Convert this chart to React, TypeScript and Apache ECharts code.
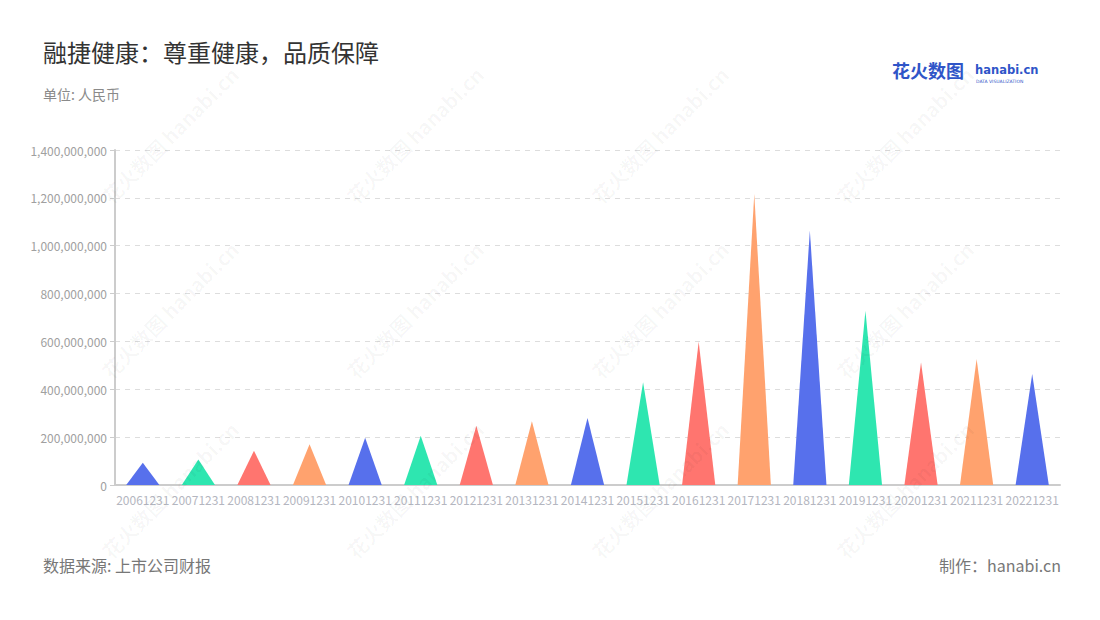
import React, { useEffect, useRef } from "react";
import * as echarts from "echarts";

const categories = [
  "20061231", "20071231", "20081231", "20091231", "20101231", "20111231",
  "20121231", "20131231", "20141231", "20151231", "20161231", "20171231",
  "20181231", "20191231", "20201231", "20211231", "20221231",
];
const values = [
  93000000, 107000000, 143000000, 171000000, 198000000, 206000000,
  247000000, 266000000, 280000000, 429000000, 599000000, 1216000000,
  1063000000, 728000000, 512000000, 527000000, 464000000,
];
const palette = ["#5770EC", "#2EE6B0", "#FF756F", "#FFA26E"];

const title = "融捷健康：尊重健康，品质保障";
const unit = "单位: 人民币";
const source = "数据来源: 上市公司财报";
const maker = "制作：hanabi.cn";

const FONT = "'Noto Sans CJK SC', 'Noto Sans', sans-serif";

export default function App() {
  const ref = useRef<HTMLDivElement>(null);
  useEffect(() => {
    if (!ref.current) return;
    const chart = echarts.init(ref.current, undefined, { renderer: "svg" });
    const wm: any[] = [];
    const wmX = [162, 407, 652, 897];
    const wmY = [127, 302, 482];
    wmX.forEach((x) =>
      wmY.forEach((y) => {
        wm.push({
          type: "text",
          x,
          y,
          rotation: Math.PI / 4,
          z: 100,
          silent: true,
          style: {
            text: "花火数图 hanabi.cn",
            fill: "rgba(0,0,0,0.035)",
            font: `bold 20px ${FONT}`,
            textAlign: "center",
            textVerticalAlign: "middle",
          },
        });
      })
    );
    chart.setOption({
      animation: false,
      backgroundColor: "#fff",
      textStyle: { fontFamily: FONT },
      grid: { left: 107, right: 32, top: 142, bottom: 127, containLabel: false },
      xAxis: {
        type: "category",
        data: categories,
        axisLine: { lineStyle: { color: "#ccc", width: 2 } },
        axisTick: { alignWithLabel: true, length: 5, lineStyle: { color: "#ccc" } },
        axisLabel: { interval: 0, color: "#b4b6c0", fontSize: 12, margin: 8 },
      },
      yAxis: {
        type: "value",
        min: 0,
        max: 1400000000,
        interval: 200000000,
        axisLine: { show: true, lineStyle: { color: "#ccc", width: 2 } },
        axisTick: { show: true, length: 5, lineStyle: { color: "#ccc" } },
        axisLabel: {
          color: "#a0a0a0",
          fontSize: 12,
          formatter: (v: number) => v.toLocaleString("en-US"),
        },
        splitLine: { lineStyle: { color: "#ddd", type: [5, 5] } },
      },
      series: [
        {
          type: "pictorialBar",
          symbol: "triangle",
          barWidth: "60%",
          symbolSize: ["100%", "100%"],
          data: values.map((v, i) => ({
            value: v,
            itemStyle: { color: palette[i % palette.length] },
          })),
        },
      ],
      graphic: [
        ...wm,
        {
          type: "text",
          left: 35,
          top: 31,
          style: { text: title, fill: "#333", font: `24px ${FONT}` },
        },
        {
          type: "text",
          left: 35,
          top: 79,
          style: { text: unit, fill: "#8a8a8a", font: `14px ${FONT}` },
        },
        {
          type: "text",
          left: 35,
          top: 549,
          style: { text: source, fill: "#777", font: `16px ${FONT}` },
        },
        {
          type: "text",
          right: 31,
          top: 549,
          style: { text: maker, fill: "#777", font: `16px ${FONT}` },
        },
        {
          type: "text",
          left: 884,
          top: 53,
          style: { text: "花火数图", fill: "#2f55c8", font: `bold 18px ${FONT}` },
        },
        {
          type: "text",
          left: 967,
          top: 56,
          style: { text: "hanabi.cn", fill: "#2f55c8", font: `bold 11.5px 'DejaVu Sans', sans-serif` },
        },
        {
          type: "text",
          left: 968,
          top: 71,
          style: { text: "DATA VISUALIZATION", fill: "#2f55c8", font: `4.5px 'DejaVu Sans', sans-serif` },
        },
      ],
    });
    return () => chart.dispose();
  }, []);
  return <div ref={ref} style={{ width: 1084, height: 604 }} />;
}
